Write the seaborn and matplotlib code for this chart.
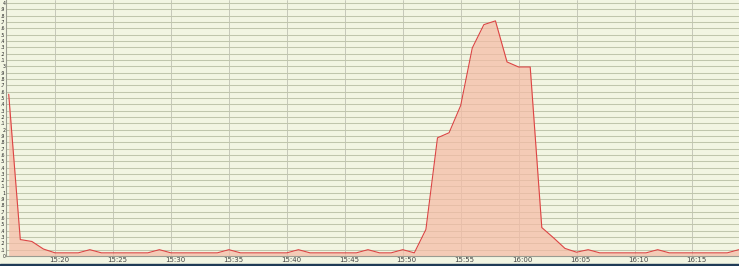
import numpy as np
import pandas as pd
import matplotlib
matplotlib.use("Agg")
import matplotlib.pyplot as plt
import matplotlib.dates as mdates
import seaborn as sns

# ---- data (one sample per minute, 15:16 .. 16:19) ----
start_time = "2000-01-01 15:16"
values = [
    2.56, 0.26, 0.23, 0.11,            # 15:16-15:19
    0.05, 0.05, 0.05, 0.10, 0.05,      # 15:20-15:24
    0.05, 0.05, 0.05, 0.05, 0.10,      # 15:25-15:29
    0.05, 0.05, 0.05, 0.05, 0.05,      # 15:30-15:34
    0.10, 0.05, 0.05, 0.05, 0.05,      # 15:35-15:39
    0.05, 0.10, 0.05, 0.05, 0.05,      # 15:40-15:44
    0.05, 0.05, 0.10, 0.05, 0.05,      # 15:45-15:49
    0.10, 0.05, 0.42, 1.87, 1.95,      # 15:50-15:54
    2.38, 3.29, 3.66, 3.72, 3.07,      # 15:55-15:59
    2.99, 2.99, 0.45, 0.29, 0.12,      # 16:00-16:04
    0.06, 0.10, 0.05, 0.05, 0.05,      # 16:05-16:09
    0.05, 0.05, 0.10, 0.05, 0.05,      # 16:10-16:14
    0.05, 0.05, 0.05, 0.05, 0.10,      # 16:15-16:19
]
times = pd.date_range(start_time, periods=len(values), freq="1min")
df = pd.DataFrame({"time": times, "value": values})

y_ticks = [round(i * 0.1, 1) for i in range(41)]
y_tick_labels = [str(int(round(v))) if abs(v - round(v)) < 1e-9 else "." + str(int(round(v * 10)) % 10)
                 for v in y_ticks]

# ---- style ----
bg = "#F2F5E2"
sns.set_theme(style="white")
plt.rcParams["font.family"] = ["DejaVu Sans"]

fig = plt.figure(figsize=(7.39, 2.66), dpi=100, facecolor=bg)
ax = fig.add_axes([6 / 739, 10 / 266, 733 / 739, 256 / 266])
ax.set_facecolor(bg)

ax.set_yticks(y_ticks)
ax.set_yticklabels(y_tick_labels)
ax.xaxis.set_major_locator(mdates.MinuteLocator(byminute=range(0, 60, 5)))
ax.xaxis.set_major_formatter(mdates.DateFormatter("%H:%M"))
ax.grid(True, axis="y", color="#C0C6AC", linewidth=0.75, zorder=0.5)
ax.grid(True, axis="x", color="#BFC1B3", linewidth=0.6, zorder=0.5)
ax.set_axisbelow(True)

ax.fill_between(df["time"], 0, df["value"], color="#F6BCA6", alpha=0.72,
                linewidth=0, zorder=1)
sns.lineplot(data=df, x="time", y="value", ax=ax, color="#DD4444",
             linewidth=0.8, zorder=2)

ax.set_xlim(pd.Timestamp("2000-01-01 15:15:46"), pd.Timestamp("2000-01-01 16:19:01"))
ax.set_ylim(0, 4.05)
ax.set_xlabel("")
ax.set_ylabel("")

ax.tick_params(axis="y", length=0, pad=0.5, labelsize=3.3, labelcolor="#222222")
ax.tick_params(axis="x", length=0, pad=1, labelsize=5, labelcolor="#444444")
offset = matplotlib.transforms.ScaledTranslation(4 / 100, 0, fig.dpi_scale_trans)
for lab in ax.get_xticklabels():
    lab.set_transform(lab.get_transform() + offset)

for side in ["top", "right"]:
    ax.spines[side].set_visible(False)
ax.spines["left"].set_color("#9A9C90")
ax.spines["left"].set_linewidth(0.8)
ax.spines["bottom"].set_color("#9A9C90")
ax.spines["bottom"].set_linewidth(0.8)

# dark strip along the bottom edge of the picture
fig.patches.append(plt.Rectangle((0, 0), 1, 2.5 / 266, transform=fig.transFigure,
                                 color="#1F3B57", zorder=5))

fig.savefig("out.png", dpi=100, facecolor=bg)
